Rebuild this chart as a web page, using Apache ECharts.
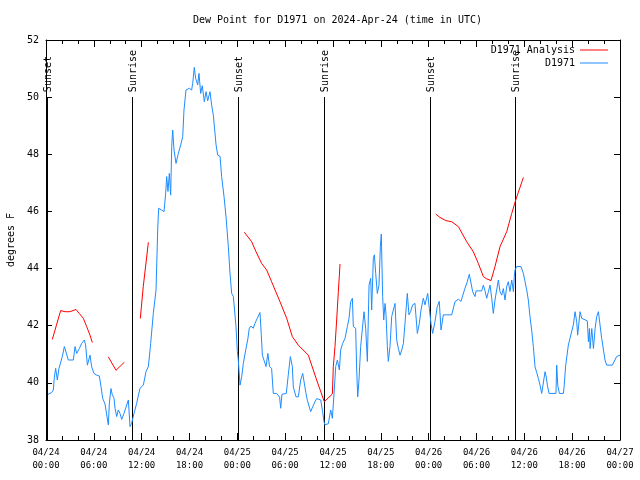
<!DOCTYPE html>
<html>
<head>
<meta charset="utf-8">
<script src="https://cdn.jsdelivr.net/npm/echarts@6/dist/echarts.min.js"></script>
<style>html,body{margin:0;padding:0;background:#fff}#chart{width:640px;height:480px}</style>
</head>
<body>
<div id="chart"></div>
<script>
// hours since 2024-04-24 00:00 UTC
const xTickLabels = ['04/24\n00:00','04/24\n06:00','04/24\n12:00','04/24\n18:00','04/25\n00:00','04/25\n06:00','04/25\n12:00','04/25\n18:00','04/26\n00:00','04/26\n06:00','04/26\n12:00','04/26\n18:00','04/27\n00:00'];
const sunHours = [0.08, 10.83, 24.12, 34.9, 48.2, 58.87];
const sunLabels = ['Sunset','Sunrise','Sunset','Sunrise','Sunset','Sunrise'];
const sunLineTop = 50;

const analysisHours = [0.79,1.84,2.38,3.0,3.76,4.18,4.68,5.1,5.52,5.81, 6.5,
  7.82,8.78,9.82, 10.5,
  11.83,12.2,12.84, 13.5,
  24.88,25.8,26.34,27.05,27.68,28.3,29.35,30.19,30.9,31.65,32.9,33.95,34.91,35.92,36.04,36.25,36.46,36.67,36.8,36.88, 40,
  48.88,49.42,50.14,50.89,51.72,52.77,53.6,54.23,54.86,55.28,55.82,56.32,56.95,57.79,58.42,58.92,59.88];
const analysisValues = [41.52,42.53,42.49,42.49,42.57,42.43,42.26,41.97,41.67,41.41, null,
  40.91,40.44,40.72, null,
  42.25,43.37,44.92, null,
  45.27,44.94,44.59,44.18,43.95,43.54,42.84,42.26,41.62,41.32,40.97,40.1,39.34,39.61,40.57,41.27,42.2,43.19,43.77,44.16, null,
  45.91,45.79,45.68,45.64,45.47,44.94,44.59,44.18,43.72,43.64,43.58,44.07,44.77,45.29,45.93,46.4,47.19];

const obsHours = [0.25,0.71,0.92,1.05,1.21,1.42,1.63,1.84,2.05,2.3,2.51,2.8,3.43,3.64,3.85,4.18,4.47,4.81,4.97,5.19,5.52,5.73,6.02,6.36,6.69,6.9,7.11,7.4,7.61,7.82,7.95,8.15,8.3,8.53,8.66,8.87,9.07,9.28,9.49,9.78,10.03,10.33,10.54,10.74,11.04,11.37,11.79,12.21,12.54,12.84,13.13,13.46,13.8,14.01,14.13,14.5,14.8,15.01,15.14,15.3,15.47,15.64,15.77,15.89,16.06,16.31,16.6,16.9,17.15,17.31,17.56,17.98,18.27,18.4,18.6,18.77,19.03,19.19,19.4,19.6,19.86,20.07,20.28,20.57,20.78,20.99,21.33,21.54,21.83,22.03,22.33,22.58,22.87,23.08,23.29,23.5,23.83,24.0,24.12,24.34,24.55,24.75,25.05,25.3,25.5,25.72,26.0,26.21,26.5,26.84,27.0,27.14,27.37,27.6,27.83,28.04,28.3,28.51,28.93,29.3,29.44,29.6,29.8,30.14,30.4,30.65,30.9,31.02,31.36,31.65,31.95,32.2,32.35,32.61,32.78,32.95,33.2,33.45,33.74,33.95,34.2,34.46,34.7,34.87,34.99,35.41,35.71,35.92,36.13,36.34,36.55,36.8,36.96,37.21,37.51,37.8,38.01,38.22,38.43,38.55,38.84,38.97,39.1,39.26,39.47,39.68,39.89,40.1,40.31,40.52,40.73,40.85,41.06,41.19,41.36,41.56,41.77,41.94,42.06,42.23,42.36,42.53,42.65,42.82,42.94,43.15,43.36,43.57,43.78,43.99,44.2,44.41,44.62,44.83,45.03,45.32,45.53,45.74,45.99,46.28,46.58,46.83,47.04,47.33,47.54,47.88,48.08,48.29,48.5,48.79,49.08,49.33,49.55,49.84,50.26,50.89,51.1,51.3,51.72,52.05,52.3,52.55,52.8,53.1,53.31,53.52,53.81,53.95,54.23,54.65,54.86,55.07,55.28,55.49,55.7,55.91,56.11,56.32,56.53,56.74,56.95,57.16,57.37,57.58,57.79,57.99,58.2,58.42,58.63,58.74,58.83,59.04,59.58,59.88,60.09,60.3,60.5,60.71,60.92,61.13,61.34,61.55,61.76,61.97,62.18,62.39,62.6,62.75,62.9,63.1,63.97,64.06,64.2,64.4,64.9,65.0,65.19,65.35,65.52,65.73,65.94,66.15,66.36,66.57,66.69,66.99,67.2,67.9,68.04,68.17,68.25,68.46,68.67,68.88,69.08,69.29,69.5,69.7,69.91,70.12,70.33,71.04,71.58,72.0];
const obsValues = [39.6,39.66,39.75,40.2,40.51,40.1,40.51,40.51,40.92,41.27,41.27,40.8,40.8,41.27,41.03,41.2,41.38,41.5,41.32,40.62,40.97,40.56,40.33,40.27,40.24,39.87,39.46,39.26,39.22,38.53,39.3,39.8,39.6,39.46,39.11,38.82,39.05,38.93,38.72,38.93,38.87,39.4,38.47,38.58,38.93,39.28,39.81,39.92,40.39,40.57,41.38,42.43,43.25,45.35,46.11,46.05,45.99,46.63,47.22,46.7,47.33,46.57,48.27,48.85,48.15,47.68,48.03,48.33,48.62,49.55,50.25,50.31,50.25,50.48,51.04,50.66,50.43,50.83,50.13,50.4,49.84,50.19,49.87,50.19,49.72,49.37,48.33,47.97,47.93,47.22,46.52,45.82,44.77,43.84,43.13,43.02,41.97,41.1,40.8,39.92,40.22,40.68,41.15,41.5,41.91,41.99,41.91,42.08,42.26,42.46,41.7,40.97,40.97,40.57,41.03,40.57,40.5,39.63,39.63,39.5,39.11,39.6,39.63,39.63,40.3,40.92,40.57,39.86,39.51,39.51,40.1,40.33,40.33,39.63,39.39,39.45,38.99,39.16,39.34,39.45,39.38,39.4,38.99,38.64,38.53,38.57,39.05,38.76,39.63,40.57,40.8,40.45,41.15,41.38,41.56,41.97,42.26,42.84,42.96,41.97,41.91,40.45,39.51,40.1,41.27,41.27,42.49,41.91,40.75,43.42,43.66,42.55,44.36,44.48,43.82,43.13,43.42,44.77,45.21,43.02,42.2,42.78,42.4,41.27,40.75,41.27,42.32,42.55,42.78,41.5,41.2,40.97,41.15,41.38,42.08,43.13,42.38,42.5,42.73,42.78,41.73,42.08,42.55,42.96,42.73,43.13,42.61,42.08,41.73,42.14,42.67,42.85,41.85,42.38,42.38,42.38,42.45,42.84,42.93,42.85,42.85,43.31,43.5,43.8,43.8,43.19,43.02,43.22,43.22,43.22,43.42,43.22,42.96,43.19,43.42,42.96,42.43,42.9,43.25,43.6,43.19,43.07,43.3,42.9,43.37,43.54,43.2,43.6,43.19,43.72,43.95,44.07,44.07,43.83,43.54,43.25,42.9,42.32,41.85,41.27,40.57,40.36,40.15,39.92,39.63,39.63,40.39,40.2,39.9,39.63,39.63,40.62,39.9,39.63,39.63,39.9,40.62,40.62,41.32,41.56,41.56,42.03,42.49,42.14,41.67,42.49,42.26,42.17,41.44,41.9,41.2,41.9,41.2,41.91,42.32,42.49,42.49,41.56,41.5,40.8,40.62,40.62,40.92,40.97];

const FONT = '"DejaVu Sans Mono", "Liberation Mono", monospace';
const chart = echarts.init(document.getElementById('chart'));

function xAxisCfg(pos, showLabel) {
  return {
    type: 'value', position: pos, min: 0, max: 72, interval: 6,
    axisLine: { show: true, onZero: false, lineStyle: { color: '#000', width: 1 } },
    axisTick: { show: true, inside: true, length: 7, lineStyle: { color: '#000' } },
    minorTick: { show: true, splitNumber: 3, length: 4, lineStyle: { color: '#000' } },
    splitLine: { show: false },
    axisLabel: {
      show: showLabel, color: '#000', fontFamily: FONT, fontSize: 9, lineHeight: 13, margin: 6,
      formatter: v => xTickLabels[Math.round(v / 6)]
    }
  };
}
function yAxisCfg(pos, showLabel) {
  return {
    type: 'value', position: pos, min: 38, max: 52, interval: 2,
    axisLine: { show: true, onZero: false, lineStyle: { color: '#000', width: 1 } },
    axisTick: { show: true, inside: true, length: 6, lineStyle: { color: '#000' } },
    splitLine: { show: false },
    axisLabel: { show: showLabel, color: '#000', fontFamily: FONT, fontSize: 10, margin: 7 },
    name: showLabel ? 'degrees F' : '',
    nameLocation: 'middle', nameGap: 30, nameRotate: 90,
    nameTextStyle: { color: '#000', fontFamily: FONT, fontSize: 10 }
  };
}

chart.setOption({
  animation: false,
  backgroundColor: '#fff',
  title: {
    text: 'Dew Point for D1971 on 2024-Apr-24 (time in UTC)',
    left: 188, top: 10,
    textStyle: { color: '#000', fontFamily: FONT, fontSize: 10, fontWeight: 'normal' }
  },
  legend: {
    data: [{ name: 'D1971 Analysis', icon: 'rect' }, { name: 'D1971', icon: 'rect' }],
    orient: 'vertical', right: 27, top: 39, align: 'right',
    itemWidth: 28, itemHeight: 1, itemGap: 1,
    textStyle: { color: '#000', fontFamily: FONT, fontSize: 10, lineHeight: 12 }
  },
  grid: { left: 46, right: 20, top: 40, bottom: 40, containLabel: false, outerBoundsMode: 'none' },
  xAxis: [xAxisCfg('bottom', true), xAxisCfg('top', false)],
  yAxis: [yAxisCfg('left', true), yAxisCfg('right', false)],
  series: [
    {
      type: 'custom', name: 'sun', xAxisIndex: 0, yAxisIndex: 0, silent: true, clip: false,
      data: sunHours.map((h, i) => [h, sunLineTop, i]),
      renderItem: function (params, api) {
        const h = api.value(0);
        const top = api.coord([h, api.value(1)]);
        const bot = api.coord([h, 38]);
        const x = Math.round(top[0]) + 0.5;
        return {
          type: 'group', children: [
            { type: 'line', shape: { x1: x, y1: Math.round(top[1]), x2: x, y2: bot[1] },
              style: { stroke: '#000', lineWidth: 1 } },
            { type: 'text', x: x + 0.5, y: top[1] - 5, rotation: Math.PI / 2,
              style: { text: sunLabels[api.value(2)], font: '10px ' + FONT, fill: '#000',
                       align: 'left', verticalAlign: 'middle' } }
          ]
        };
      }
    },
    {
      type: 'line', name: 'D1971 Analysis', xAxisIndex: 0, yAxisIndex: 0,
      symbol: 'none', connectNulls: false,
      lineStyle: { color: '#ff0000', width: 1 }, itemStyle: { color: '#ff0000' },
      data: analysisHours.map((h, i) => [h, analysisValues[i]])
    },
    {
      type: 'line', name: 'D1971', xAxisIndex: 0, yAxisIndex: 0,
      symbol: 'none',
      lineStyle: { color: '#1e8cff', width: 1 }, itemStyle: { color: '#1e8cff' },
      data: obsHours.map((h, i) => [h, obsValues[i]])
    }
  ]
});
</script>
</body>
</html>
